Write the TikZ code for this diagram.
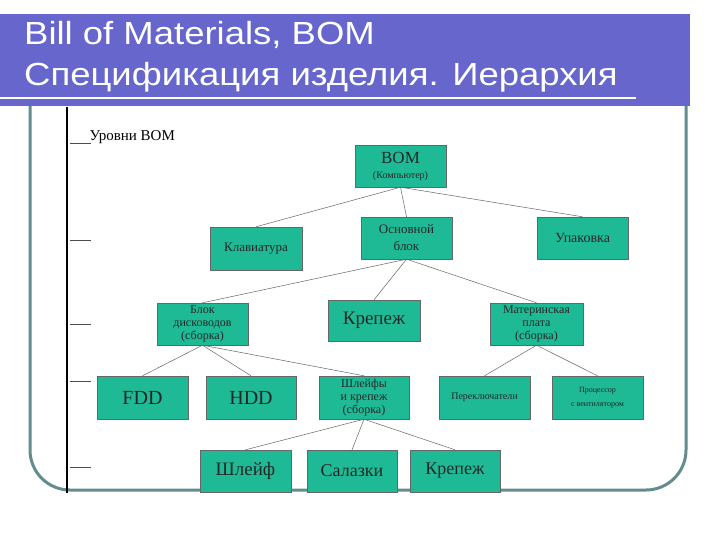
\documentclass[tikz,border=0pt]{standalone}
\usepackage{fontspec}
\usepackage{graphicx}
\setmainfont{Liberation Serif}
\newfontfamily\titlefont{Liberation Sans}
\newcommand\fs[1]{\fontsize{#1}{#1}\selectfont}
\begin{document}
\begin{tikzpicture}[x=1pt,y=-1pt,
  bx/.style={draw=black!60,fill=boxc,inner sep=1pt,align=center,text=black!85},
  ln/.style={draw=black!60,line width=0.5pt}]
\definecolor{boxc}{RGB}{30,186,150}
\definecolor{barc}{RGB}{102,102,204}
\definecolor{framec}{RGB}{100,140,140}
\useasboundingbox (0,0) rectangle (720,540);
\fill[white] (0,0) rectangle (720,540);
% frame
\draw[framec,line width=3pt,rounded corners=40pt] (30,95) -- (30,490) -- (686,490) -- (686,95);
% title bar
\fill[barc] (0,14) rectangle (690,106);
\draw[white,line width=1.2pt] (0,98) -- (636,98);
\node[anchor=west,text=white,font=\titlefont\fs{32},inner sep=0pt] (t1) at (24,35) {\scalebox{1.14}[1]{Bill of Materials, BOM}};
\node[anchor=west,text=white,font=\titlefont\fs{32},inner sep=0pt] (t2) at (24,77) {\scalebox{1.14}[1]{Спецификация изделия. Иерархия}};
% level axis
\draw[black,line width=2.5pt] (67,107) -- (67,493);
\foreach \yy in {143,240,324,381,467} \draw[black!70] (70,\yy) -- (91,\yy);
\node[anchor=west,font=\fs{15}] (lv) at (86,137) {Уровни BOM};
% boxes
\newcommand\bxnode[6]{\node[bx,minimum width=#3-#2,minimum height=#5-#4] (#1) at ({(#2+#3)/2},{(#4+#5)/2}) {#6};}
\bxnode{bom}{355}{446}{145}{187}{{\fs{17}BOM}\\[3pt]{\fs{10}(Компьютер)}}
\bxnode{kl}{210}{302}{227}{270}{\fs{13}Клавиатура}
\bxnode{ob}{361}{452}{217}{259}{\fs{13}Основной\\[5pt]\fs{13}блок}
\bxnode{up}{537}{628}{217}{259}{\fs{14}Упаковка}
\bxnode{bd}{157}{248}{303}{345}{\fs{12}Блок\\[1pt]\fs{12}дисководов\\[1pt]\fs{12}(сборка)}
\bxnode{kr1}{328}{420}{300}{341}{\fs{19}Крепеж}
\bxnode{mp}{490}{583}{303}{345}{\fs{12}Материнская\\[1pt]\fs{12}плата\\[1pt]\fs{12}(сборка)}
\bxnode{fdd}{97}{188}{376}{419}{\fs{20}FDD}
\bxnode{hdd}{206}{296}{376}{419}{\fs{20}HDD}
\bxnode{sh}{319}{409}{376}{419}{\fs{12}Шлейфы\\[1pt]\fs{12}и крепеж\\[1pt]\fs{12}(сборка)}
\bxnode{pe}{439}{530}{376}{419}{\fs{10}Переключатели}
\bxnode{pr}{552}{643}{376}{419}{\fs{8}Процессор\\[2pt]\fs{8}с вентилятором}
\bxnode{shl}{200}{291}{450}{492}{\fs{19}Шлейф}
\bxnode{sal}{307}{397}{450}{492}{\fs{18}Салазки}
\bxnode{kr2}{410}{500}{450}{492}{\fs{18}Крепеж}
% connectors
\foreach \a/\b in {bom/kl,bom/ob,bom/up,ob/bd,ob/kr1,ob/mp,bd/fdd,bd/hdd,bd/sh,mp/pe,mp/pr,sh/shl,sh/sal,sh/kr2}
  \draw[ln] (\a.south) -- (\b.north);
\end{tikzpicture}
\end{document}
